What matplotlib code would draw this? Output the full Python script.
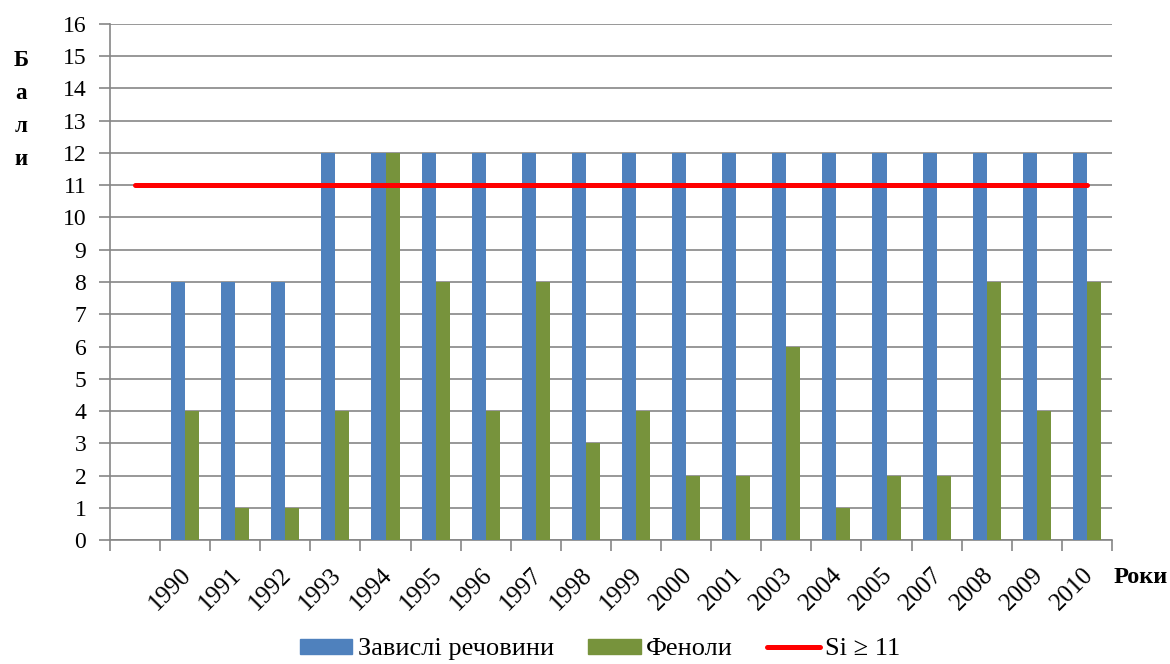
import numpy as np
import matplotlib.pyplot as plt
import matplotlib.transforms as mtransforms
from matplotlib.patches import Patch
from matplotlib.lines import Line2D

plt.rcParams['font.family'] = ['Liberation Serif', 'DejaVu Serif']

# first slot is an empty category (only the threshold line passes through it)
years = ['', '1990', '1991', '1992', '1993', '1994', '1995', '1996', '1997', '1998',
         '1999', '2000', '2001', '2003', '2004', '2005', '2007', '2008', '2009', '2010']
suspended = [np.nan, 8, 8, 8, 12, 12, 12, 12, 12, 12, 12, 12, 12, 12, 12, 12, 12, 12, 12, 12]
phenols = [np.nan, 4, 1, 1, 4, 12, 8, 4, 8, 3, 4, 2, 2, 6, 1, 2, 2, 8, 4, 8]
threshold = [11] * len(years)

blue = '#4F81BD'
green = '#77933C'
grid_c = '#868686'

fig = plt.figure(figsize=(11.7, 6.64), dpi=100)
ax = fig.add_axes([0.094, 0.1867, 0.8564, 0.7772])

x = np.arange(len(years))
w = 0.28
ax.bar(x - w / 2, suspended, w, color=blue, zorder=3)
ax.bar(x + w / 2, phenols, w, color=green, zorder=3)
ax.plot(x, threshold, color='#FF0000', lw=3.6, solid_capstyle='round', zorder=4)

ax.set_xlim(-0.5, len(years) - 0.5)
ax.set_ylim(0, 16)
ax.set_yticks(range(0, 17))
ax.yaxis.grid(True, color=grid_c, lw=1.2, zorder=0)

ax.set_xticks(x)
ax.set_xticklabels(years, rotation=45, ha='right', va='top', rotation_mode='anchor',
                   fontsize=18)
ax.set_xticks(np.arange(-0.5, len(years)), minor=True)
ax.tick_params(axis='x', which='major', length=0, pad=17)
ax.tick_params(axis='x', which='minor', length=8, width=1.2, color=grid_c)
ax.tick_params(axis='y', length=8, width=1.2, color=grid_c, labelsize=17, pad=9)

# nudge the slanted year labels a little to the left
shift = mtransforms.ScaledTranslation(-5 / 100, 0, fig.dpi_scale_trans)
for lbl in ax.get_xticklabels():
    lbl.set_transform(lbl.get_transform() + shift)

for s in ['top', 'right']:
    ax.spines[s].set_visible(False)
for s in ['left', 'bottom']:
    ax.spines[s].set_color(grid_c)
    ax.spines[s].set_linewidth(1.2)

# axis titles
fig.text(0.018, 0.835, 'Б\nа\nл\nи', ha='center', va='center', fontsize=16.5,
         fontweight='bold', linespacing=1.75)
fig.text(0.998, 0.13, 'Роки', ha='right', va='center', fontsize=17.5, fontweight='bold')

handles = [Patch(color=blue), Patch(color=green),
           Line2D([], [], color='#FF0000', lw=3.6, solid_capstyle='round')]
labels = ['Завислі речовини', 'Феноли', 'Si ≥ 11']
fig.legend(handles, labels, loc='center', bbox_to_anchor=(0.513, 0.022), ncol=3,
           frameon=False, fontsize=19, handlelength=2.0, handleheight=0.5,
           handletextpad=0.2, columnspacing=1.3, borderpad=0.1)

fig.savefig('out.png', dpi=100)
